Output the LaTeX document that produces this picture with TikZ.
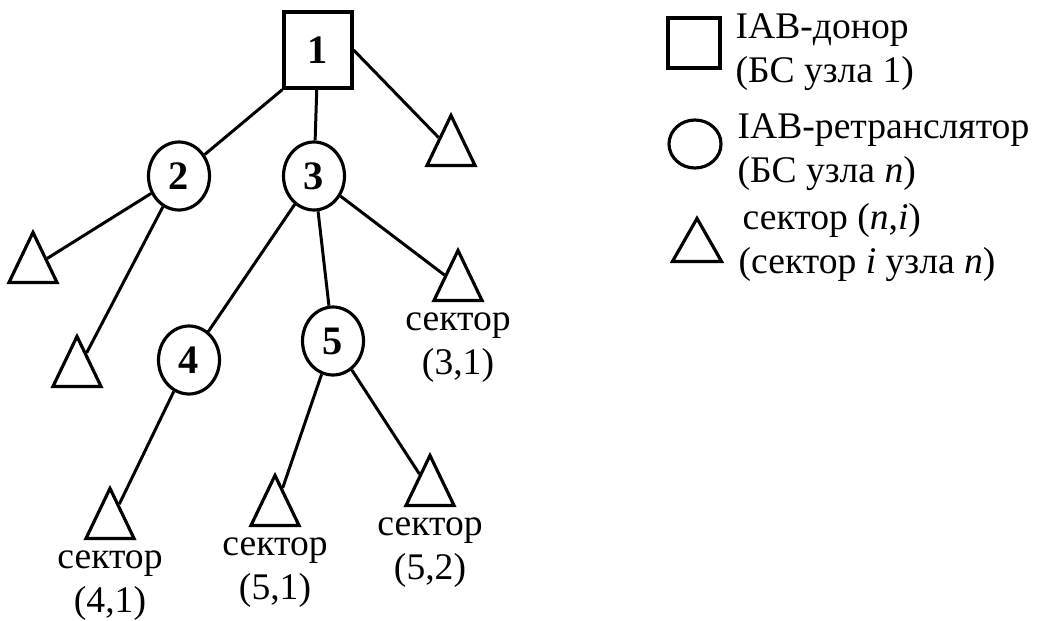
\documentclass[tikz,border=0pt]{standalone}
\usepackage{fontspec}
\setmainfont{Liberation Serif}
\usetikzlibrary{shapes.geometric,positioning}
\newcommand\treefont{\fontsize{10.7}{12.5}\selectfont}
\newcommand\numfont{\fontsize{11.5}{13}\selectfont\bfseries}
\tikzset{
  donor/.style={rectangle, draw, line width=0.9pt, minimum width=6.8mm,
                minimum height=7.6mm, inner sep=0pt, font=\numfont},
  relay/.style={ellipse, draw, line width=0.9pt, minimum width=6.1mm,
                minimum height=6.8mm, inner sep=0pt, font=\numfont},
  sector/.style={isosceles triangle, isosceles triangle apex angle=52,
                 isosceles triangle stretches, shape border rotate=90,
                 draw, line width=0.9pt, minimum width=4.8mm,
                 minimum height=5mm, inner sep=0pt},
  link/.style={line width=0.85pt},
  seclabel/.style={align=center, inner sep=0pt, font=\treefont},
  legtext/.style={anchor=base west, align=left, inner sep=0pt, font=\treefont},
}

\begin{document}
\begin{tikzpicture}[x=0.1mm, y=-0.1mm]
  \useasboundingbox (0,0) rectangle (1053,620);
  % Base stations
  \node[donor] (n1) at (318,50) {1};
  \node[relay] (n2) at (179,176) {2};
  \node[relay] (n3) at (314,176) {3};
  \node[relay] (n4) at (189,360) {4};
  \node[relay] (n5) at (333,341) {5};
  % Sectors (placed by the middle of the base)
  \node[sector, anchor=south] (s11) at (451,167) {};
  \node[sector, anchor=south] (s21) at (33,284) {};
  \node[sector, anchor=south] (s22) at (77,388) {};
  \node[sector, anchor=south] (s31) at (458,302) {};
  \node[sector, anchor=south] (s41) at (110,540) {};
  \node[sector, anchor=south] (s51) at (275,527) {};
  \node[sector, anchor=south] (s52) at (430,507) {};
  \node[seclabel, below=1mm of s31] (l31) {сектор\\(3,1)};
  \node[seclabel, below=1mm of s41] (l41) {сектор\\(4,1)};
  \node[seclabel, below=1mm of s51] (l51) {сектор\\(5,1)};
  \node[seclabel, below=1mm of s52] (l52) {сектор\\(5,2)};
  % Links
  \draw[link] (n1.south west) -- (n2);
  \draw[link] (n1) -- (n3);
  \draw[link] (n1.east) -- (s11);
  \draw[link] (n2) -- (s21);
  \draw[link] (n2) -- (s22);
  \draw[link] (n3) -- (n4);
  \draw[link] (n3) -- (n5);
  \draw[link] (n3) -- (s31);
  \draw[link] (n4) -- (s41);
  \draw[link] (n5) -- (s51);
  \draw[link] (n5) -- (s52);
  % Legend (text anchored at the baseline of its last line)
  \node[donor, minimum width=5.2mm, minimum height=5mm] (kdonor) at (694,43) {};
  \node[relay, minimum width=5.2mm, minimum height=4.8mm] (krelay) at (695,144) {};
  \node[sector, anchor=south, minimum width=4.9mm, minimum height=4.3mm] (ksector) at (697,263) {};
  \node[legtext] (tdonor) at (735,82) {IAB-донор\\(БС узла 1)};
  \node[legtext] (trelay) at (737,182) {IAB-ретранслятор\\(БС узла \textit{n})};
  \node[legtext] (tsector) at (738,273) {\hspace{0.4mm}сектор (\textit{n},\textit{i})\\(сектор \textit{i} узла \textit{n})};
\end{tikzpicture}
\end{document}
